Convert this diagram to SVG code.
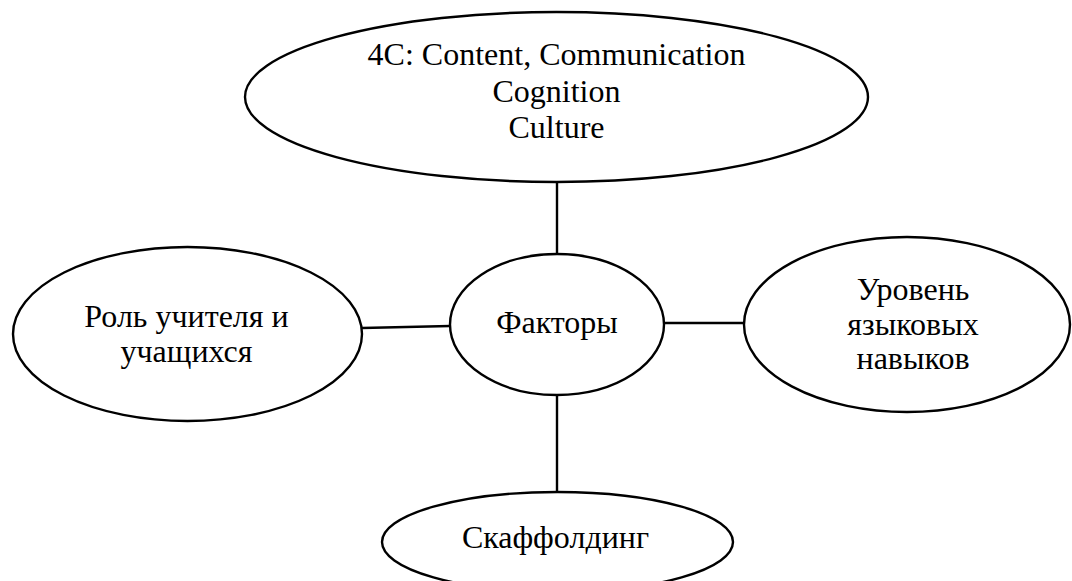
<svg xmlns="http://www.w3.org/2000/svg" width="1072" height="581" viewBox="0 0 1072 581" font-family="'Liberation Serif', 'Times New Roman', serif" font-size="32">
<style>
.n{fill:#fff;stroke:#000;stroke-width:2.4}
.c line{stroke:#000;stroke-width:2.4}
text{font-family:'Liberation Serif','Times New Roman',serif;font-size:32px;fill:#000;text-anchor:middle}
</style>
<rect width="1072" height="581" fill="#fff"/>
<g class="c" id="connectors">
<line x1="557" y1="181" x2="557" y2="255"/>
<line x1="362" y1="328" x2="450" y2="326"/>
<line x1="664" y1="323" x2="744" y2="323"/>
<line x1="557" y1="394" x2="557" y2="493"/>
</g>
<g id="n-4c">
<ellipse class="n" cx="556.5" cy="97" rx="311.5" ry="85"/>
<text x="556.5" y="65">4C: Content, Communication</text>
<text x="556.5" y="102">Cognition</text>
<text x="556.5" y="138">Culture</text>
</g>
<g id="n-factors">
<ellipse class="n" cx="557" cy="324.5" rx="107" ry="70.5"/>
<text x="557" y="333">Факторы</text>
</g>
<g id="n-role">
<ellipse class="n" cx="187.5" cy="334" rx="174.5" ry="87"/>
<text x="186.5" y="327">Роль учителя и</text>
<text x="186.5" y="362">учащихся</text>
</g>
<g id="n-level">
<ellipse class="n" cx="907" cy="324.5" rx="163" ry="87.5"/>
<text x="913" y="300">Уровень</text>
<text x="913" y="335">языковых</text>
<text x="913" y="369">навыков</text>
</g>
<g id="n-scaff">
<ellipse class="n" cx="557.5" cy="542" rx="175.5" ry="50"/>
<text x="555.5" y="548">Скаффолдинг</text>
</g>
</svg>
